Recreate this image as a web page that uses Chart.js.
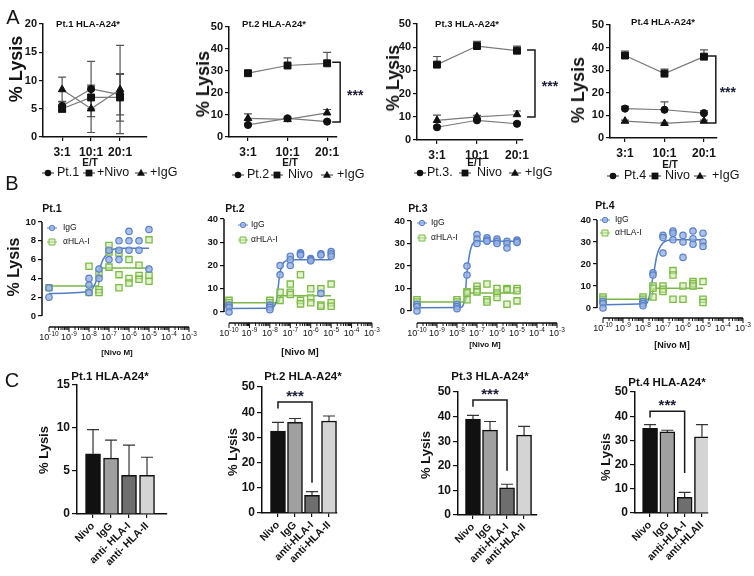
<!DOCTYPE html>
<html>
<head>
<meta charset="utf-8">
<script src="https://cdn.jsdelivr.net/npm/chart.js@4.4.1/dist/chart.umd.min.js"></script>
<style>
html,body{margin:0;padding:0;background:#fff;}
body{position:relative;width:754px;height:576px;overflow:hidden;font-family:"Liberation Sans",Arial,sans-serif;color:#141414;}
canvas{position:absolute;}
.t{position:absolute;white-space:nowrap;line-height:1;transform:translate(-50%,-50%);}
</style>
</head>
<body>
<script>
// ---------------- DATA ----------------
const etRatios = ['3:1', '10:1', '20:1'];
// Panel A: % lysis at E/T ratios (mean, error)
const a1Pt = [5.5, 8.5, 7.5],     a1PtErr = [0.8, 4.9, 3.6];
const a1Nivo = [5.0, 7.0, 7.0],   a1NivoErr = [0.6, 2.0, 4.2];
const a1IgG = [8.4, 5.0, 8.4],    a1IgGErr = [2.2, 4.2, 7.8];
const a2Pt = [5.5, 8.5, 7.0],     a2PtErr = [0.6, 0.6, 0.6];
const a2Nivo = [29.0, 32.5, 33.5], a2NivoErr = [0.8, 3.5, 5.0];
const a2IgG = [8.5, 8.0, 11.0],   a2IgGErr = [2.0, 0.6, 1.5];
const a3Pt = [5.5, 8.5, 7.0],     a3PtErr = [0.6, 0.6, 0.6];
const a3Nivo = [32.5, 40.5, 38.5], a3NivoErr = [3.5, 2.0, 2.0];
const a3IgG = [8.5, 10.0, 11.0],  a3IgGErr = [2.2, 0.6, 1.5];
const a4Pt = [13.0, 12.5, 11.0],  a4PtErr = [1.0, 3.5, 1.0];
const a4Nivo = [36.5, 28.5, 36.0], a4NivoErr = [2.0, 2.0, 3.0];
const a4IgG = [7.5, 6.5, 7.5],    a4IgGErr = [0.4, 0.4, 0.4];
const aTicksPt1 = [0, 5, 10, 15, 20];
const aTicks = [0, 10, 20, 30, 40, 50];

// Panel B: dose response, replicates per concentration
const nivoConc = [1e-10, 1e-8, 3.16e-8, 1e-7, 3.16e-7, 1e-6, 3.16e-6, 1e-5];
const b1IgG = [[3,2],[4,3.3,2.5],[5,4],[7,6],[8,7,6],[9,8,7],[8,7],[9.2,5]];
const b1HLA = [[3],[5.3,2.5],[4.5,2.8,2.5],[7.5,6.8,5.2],[6.7,4.4,3],[6,4,3.5],[5.4,4.3,3.9],[8.1,4.3,3.7]];
const b1IgGFit = [[1e-10,2.4],[1e-8,2.6],[2e-8,3.4],[3.16e-8,4.8],[5e-8,6.0],[1e-7,6.8],[3.16e-7,7.2],[1e-5,7.2]];
const b1HLAFit = [[1e-10,3.2],[3e-8,3.2],[3.5e-8,5.1],[1e-5,5.1]];
const b2IgG = [[3,2,0],[3,2,1],[20,16],[24,22.5,20],[25.5,25,24.5],[23,22.5,22],[25,24.5,8],[26,25,24]];
const b2HLA = [[5,4],[5,4],[8.5,5],[12,8.5,7.5],[16,5,3.5],[10,6,4],[10,3,2.5],[12,4,2.5]];
const b2IgGFit = [[1e-10,1.5],[1e-8,1.6],[2e-8,4],[3.16e-8,17],[5e-8,21.5],[1e-7,22.5],[1e-5,22.5]];
const b2HLAFit = [[1e-10,4],[2.5e-8,4],[3.5e-8,7],[1e-5,7]];
const b3IgG = [[3,2,0],[3,2,1],[20,16],[34,32,30],[32.5,31.5,31],[32,31,30],[31,30,28],[31.5,31,30.5]];
const b3HLA = [[5,4],[5,4],[8.5,8,5],[11,9.5,8.5],[12,5,4],[10,8,6],[10,9.5,3],[10,9,4.5]];
const b3IgGFit = [[1e-10,1.5],[1.5e-8,1.6],[2.5e-8,6],[3.16e-8,17],[5e-8,28],[1e-7,31],[1e-5,31]];
const b3HLAFit = [[1e-10,4],[2.5e-8,4],[3.5e-8,8],[1e-5,8]];
const b4IgG = [[3,2,0],[3,2,1],[16,15],[33,32,25],[35,34,31],[33,30,23],[35,31.5,29],[34,30,28]];
const b4HLA = [[5,4],[5,4],[10,9,5],[10,8.5,7.5],[17,15,4],[10,4],[12,11,10],[12,4,2.5]];
const b4IgGFit = [[1e-10,1.5],[1.5e-8,2],[3.16e-8,14],[5e-8,24],[1e-7,29.5],[3e-7,31],[1e-5,31]];
const b4HLAFit = [[1e-10,4],[2.5e-8,4],[3.5e-8,9],[1e-5,9]];
const bTicksPt1 = [0, 2, 4, 6, 8, 10];
const bTicks = [0, 10, 20, 30, 40];

// Panel C: bars (mean, error)
const cGroups1 = ['Nivo', 'IgG', 'anti- HLA-I', 'anti- HLA-II'];
const cGroups = ['Nivo', 'IgG', 'anti-HLA-I', 'anti-HLA-II'];
const cGroups4 = ['Nivo', 'IgG', 'anti-HLA-I', 'anti-HLAII'];
const c1Vals = [7.0, 6.5, 4.5, 4.5],     c1Err = [2.8, 2.1, 3.5, 2.1];
const c2Vals = [32.5, 36.0, 7.0, 36.5],  c2Err = [3.5, 1.5, 1.5, 2.0];
const c3Vals = [39.0, 34.5, 11.0, 32.5], c3Err = [1.5, 3.5, 1.5, 3.5];
const c4Vals = [35.0, 33.5, 6.5, 31.5],  c4Err = [1.5, 0.7, 2.0, 5.0];
const cTicksPt1 = [0, 5, 10, 15];
const cTicks = [0, 10, 20, 30, 40, 50];

// ---------------- HELPERS ----------------
const FONT = '"Liberation Sans", Arial, sans-serif';
Chart.defaults.font.family = FONT;
Chart.defaults.color = '#141414';

function drawShape(ctx, shape, x, y, r, fill, stroke, lw) {
  ctx.beginPath();
  if (shape === 'circle') ctx.arc(x, y, r, 0, Math.PI * 2);
  else if (shape === 'rect') ctx.rect(x - r, y - r, 2 * r, 2 * r);
  else { ctx.moveTo(x, y - r * 1.15); ctx.lineTo(x + r * 1.1, y + r * 0.75); ctx.lineTo(x - r * 1.1, y + r * 0.75); ctx.closePath(); }
  if (fill) { ctx.fillStyle = fill; ctx.fill(); }
  if (stroke) { ctx.strokeStyle = stroke; ctx.lineWidth = lw || 1; ctx.stroke(); }
}

const extras = {
  id: 'extras',
  beforeDatasetsDraw(chart) {
    const ctx = chart.ctx, ys = chart.scales.y;
    chart.data.datasets.forEach((ds, di) => {
      if (!ds.errUp) return;
      const meta = chart.getDatasetMeta(di);
      ctx.save();
      ctx.strokeStyle = ds.errColor || '#333';
      ctx.lineWidth = ds.errWidth || 1.2;
      meta.data.forEach((el, i) => {
        const raw = ds.data[i];
        const val = typeof raw === 'object' ? raw.y : raw;
        const x = el.x, c = ds.errCap || 4, yc = ys.getPixelForValue(val);
        const up = ds.errUp[i] || 0, dn = (ds.errDown && ds.errDown[i]) || 0;
        ctx.beginPath();
        if (up) { const yt = ys.getPixelForValue(val + up); ctx.moveTo(x, yc); ctx.lineTo(x, yt); ctx.moveTo(x - c, yt); ctx.lineTo(x + c, yt); }
        if (dn) { const yb = ys.getPixelForValue(val - dn); ctx.moveTo(x, yc); ctx.lineTo(x, yb); ctx.moveTo(x - c, yb); ctx.lineTo(x + c, yb); }
        ctx.stroke();
      });
      ctx.restore();
    });
  },
  afterDraw(chart, args, o) {
    const ctx = chart.ctx, xs = chart.scales.x, ys = chart.scales.y, ca = chart.chartArea;
    const ox = o.ox || 0, oy = o.oy || 0;
    ctx.save();
    if (o.detached) {
      const d = o.detached;
      ctx.strokeStyle = '#111'; ctx.lineWidth = 1.5;
      ctx.beginPath();
      ctx.moveTo(ca.left, ys.getPixelForValue(d.ymax)); ctx.lineTo(ca.left, ys.getPixelForValue(0));
      ctx.moveTo(xs.getPixelForValue(d.xmin), ca.bottom); ctx.lineTo(xs.getPixelForValue(d.xmax), ca.bottom);
      ctx.stroke();
      ctx.lineWidth = 1;
      xs.ticks.forEach(t => {
        const px = xs.getPixelForValue(t.value);
        ctx.beginPath(); ctx.moveTo(px, ca.bottom); ctx.lineTo(px, ca.bottom + (t.major ? 5 : 3)); ctx.stroke();
      });
      ctx.fillStyle = '#141414'; ctx.textBaseline = 'middle'; ctx.textAlign = 'left';
      xs.ticks.filter(t => t.major).forEach(t => {
        const px = xs.getPixelForValue(t.value);
        const ex = String(Math.round(Math.log10(t.value)));
        ctx.font = d.base; const w1 = ctx.measureText('10').width;
        ctx.font = d.sup; const w2 = ctx.measureText(ex).width;
        const x0 = px - (w1 + w2) / 2, yy = ca.bottom + d.dy;
        ctx.font = d.base; ctx.fillText('10', x0, yy);
        ctx.font = d.sup; ctx.fillText(ex, x0 + w1, yy - 3.5);
      });
    }
    (o.brackets || []).forEach(b => {
      ctx.strokeStyle = '#1a1a1a'; ctx.lineWidth = 1.5;
      ctx.beginPath();
      ctx.fillStyle = '#1c1c38'; ctx.font = b.font; ctx.textAlign = 'center'; ctx.textBaseline = 'middle';
      if (b.type === 'v') {
        const px = xs.getPixelForValue(b.x), p1 = ys.getPixelForValue(b.y1), p2 = ys.getPixelForValue(b.y2);
        ctx.moveTo(px - b.tick, p1); ctx.lineTo(px, p1); ctx.lineTo(px, p2); ctx.lineTo(px - b.tick, p2); ctx.stroke();
        ctx.fillText(b.label, px + b.lx, (p1 + p2) / 2 + 4);
      } else {
        const a = xs.getPixelForValue(b.x1), c = xs.getPixelForValue(b.x2), py = ys.getPixelForValue(b.y);
        ctx.moveTo(a, ys.getPixelForValue(b.yL)); ctx.lineTo(a, py); ctx.lineTo(c, py); ctx.lineTo(c, ys.getPixelForValue(b.yR)); ctx.stroke();
        ctx.fillText(b.label, (a + c) / 2, ys.getPixelForValue(b.ly) + 4);
      }
    });
    if (o.legend) {
      const L = o.legend;
      L.items.forEach(it => {
        const x = it.x - ox, y = it.y - oy;
        ctx.strokeStyle = it.line || L.line; ctx.lineWidth = 1;
        ctx.beginPath(); ctx.moveTo(x - L.half, y); ctx.lineTo(x + L.half, y); ctx.stroke();
        drawShape(ctx, it.shape, x, y, it.r, it.fill, it.stroke, it.lw || 1);
        ctx.fillStyle = '#141414'; ctx.font = L.font; ctx.textAlign = 'left'; ctx.textBaseline = 'middle';
        ctx.fillText(it.text, it.tx - ox, y);
      });
    }
    ctx.restore();
  }
};

function place(cv, area, cfg) {
  const c = document.createElement('canvas');
  c.width = cv.w; c.height = cv.h;
  c.style.left = cv.x + 'px'; c.style.top = cv.y + 'px';
  c.style.width = cv.w + 'px'; c.style.height = cv.h + 'px';
  document.body.appendChild(c);
  const o = cfg.options;
  o.responsive = false; o.animation = false; o.devicePixelRatio = 1;
  o.layout = { padding: { left: 0, top: area.t - cv.y, right: cv.x + cv.w - area.r, bottom: 0 } };
  o.scales.y.afterFit = s => { s.width = area.l - cv.x; };
  o.scales.x.afterFit = s => { s.height = cv.y + cv.h - area.b; };
  o.plugins = Object.assign({ legend: { display: false }, tooltip: { enabled: false } }, o.plugins || {});
  o.plugins.extras = Object.assign({ ox: cv.x, oy: cv.y }, o.plugins.extras || {});
  cfg.plugins = [extras];
  new Chart(c.getContext('2d'), cfg);
}

const axisGrid = { display: true, drawOnChartArea: false, drawTicks: true, tickLength: 4, color: '#111', lineWidth: 1.2 };
const axisBorder = { display: true, color: '#111', width: 1.5 };

// ---------------- PANEL A ----------------
function panelA(cv, area, xr, yTicks, ser, legendItems, bracket) {
  const shapes = ['circle', 'rect', 'triangle'], radii = [3.6, 4.9, 4.4];
  const datasets = ser.map((s, k) => ({
    label: s.label, data: s.v.map((v, i) => ({ x: i, y: v })), errUp: s.up, errDown: s.dn,
    showLine: true, borderColor: '#7a7a7a', borderWidth: 1.2,
    pointStyle: shapes[k], pointRadius: radii[k], pointBackgroundColor: '#111', pointBorderColor: '#111', pointBorderWidth: 1,
    errColor: '#555', errCap: 4
  }));
  place(cv, area, {
    type: 'scatter', data: { datasets },
    options: {
      scales: {
        x: { type: 'linear', min: xr[0], max: xr[1], offset: false,
          afterBuildTicks: s => { s.ticks = etRatios.map((_, i) => ({ value: i })); },
          ticks: { callback: v => etRatios[v], font: { size: 12, weight: 'bold' }, padding: 4, autoSkip: false, maxRotation: 0, minRotation: 0 },
          grid: axisGrid, border: axisBorder },
        y: { type: 'linear', min: yTicks[0], max: yTicks[yTicks.length - 1],
          afterBuildTicks: s => { s.ticks = yTicks.map(v => ({ value: v })); },
          ticks: { font: { size: 11, weight: 'bold' }, padding: 2 },
          grid: axisGrid, border: axisBorder }
      },
      plugins: { extras: { legend: { items: legendItems, font: '12.5px ' + FONT, line: '#333', half: 6 }, brackets: bracket ? [bracket] : [] } }
    }
  });
}
const aLeg = (y, xs, txs, names) => [
  { shape: 'circle', x: xs[0], y, tx: txs[0], text: names[0], r: 3.3, fill: '#111' },
  { shape: 'rect', x: xs[1], y, tx: txs[1], text: names[1], r: 3.4, fill: '#111' },
  { shape: 'triangle', x: xs[2], y, tx: txs[2], text: names[2], r: 3.6, fill: '#111' }
];
const br = (x, y1, y2, lx) => ({ type: 'v', x, y1, y2, tick: 8, lx, label: '***', font: 'bold 14px ' + FONT });

panelA({ x: 0, y: 0, w: 192, h: 186 }, { l: 43, t: 24, r: 147, b: 137 }, [-0.66, 2.93], aTicksPt1,
  [{ label: 'Pt.1', v: a1Pt, up: a1PtErr, dn: a1PtErr }, { label: '+Nivo', v: a1Nivo, up: a1NivoErr, dn: a1NivoErr }, { label: '+IgG', v: a1IgG, up: a1IgGErr, dn: a1IgGErr }],
  aLeg(173, [48, 89, 141], [57, 97, 150], ['Pt.1', '+Nivo', '+IgG']), null);
panelA({ x: 190, y: 0, w: 190, h: 186 }, { l: 229, t: 27, r: 337, b: 137 }, [-0.48, 2.25], aTicks,
  [{ label: 'Pt.2', v: a2Pt, up: a2PtErr }, { label: 'Nivo', v: a2Nivo, up: a2NivoErr }, { label: '+IgG', v: a2IgG, up: a2IgGErr }],
  aLeg(175, [238, 277, 327], [247, 288, 337], ['Pt.2', 'Nivo', '+IgG']), br(2.33, 34, 6.8, 15));
panelA({ x: 380, y: 0, w: 185, h: 186 }, { l: 417, t: 24, r: 523, b: 140 }, [-0.5, 2.15], aTicks,
  [{ label: 'Pt.3', v: a3Pt, up: a3PtErr }, { label: 'Nivo', v: a3Nivo, up: a3NivoErr }, { label: '+IgG', v: a3IgG, up: a3IgGErr }],
  aLeg(173, [420, 465, 515], [427, 477, 525], ['Pt.3.', 'Nivo', '+IgG']), br(2.45, 38.8, 9.9, 15));
panelA({ x: 565, y: 0, w: 189, h: 186 }, { l: 610, t: 25, r: 717, b: 138 }, [-0.38, 2.33], aTicks,
  [{ label: 'Pt.4', v: a4Pt, up: a4PtErr }, { label: 'Nivo', v: a4Nivo, up: a4NivoErr }, { label: '+IgG', v: a4IgG, up: a4IgGErr }],
  aLeg(176, [613, 655, 700], [624, 665, 712], ['Pt.4', 'Nivo', '+IgG']), br(2.3, 36.3, 6.6, 12));

// ---------------- PANEL B ----------------
const toPts = (conc, reps) => { const p = []; conc.forEach((c, i) => reps[i].forEach(v => p.push({ x: c, y: v }))); return p; };
const fitPts = f => f.map(p => ({ x: p[0], y: p[1] }));
const IGG_FILL = 'rgba(150,178,228,0.8)', IGG_LINE = '#5a80c8', HLA_FILL = 'rgba(205,232,175,0.55)', HLA_LINE = '#7cbc46';

function panelB(cv, area, xmin, yr, yTicks, igg, hla, iggFit, hlaFit, leg) {
  place(cv, area, {
    type: 'scatter',
    data: { datasets: [
      { label: 'IgG', data: toPts(nivoConc, igg), pointStyle: 'circle', pointRadius: 3.2, pointBackgroundColor: IGG_FILL, pointBorderColor: IGG_LINE, pointBorderWidth: 1.2 },
      { label: 'αHLA-I', data: toPts(nivoConc, hla), pointStyle: 'rect', pointRadius: 4.4, pointBackgroundColor: HLA_FILL, pointBorderColor: HLA_LINE, pointBorderWidth: 1.3 },
      { label: 'IgG fit', data: fitPts(iggFit), showLine: true, pointRadius: 0, borderColor: '#4f7cc4', borderWidth: 1.5, cubicInterpolationMode: 'monotone' },
      { label: 'αHLA-I fit', data: fitPts(hlaFit), showLine: true, pointRadius: 0, borderColor: '#7ab648', borderWidth: 1.5, cubicInterpolationMode: 'monotone' }
    ] },
    options: {
      scales: {
        x: { type: 'logarithmic', min: xmin, max: 1e-3,
          afterBuildTicks: s => { const t = []; for (let e = -10; e < -3; e++) for (let m = 1; m < 10; m++) t.push({ value: m * Math.pow(10, e), major: m === 1 }); t.push({ value: 1e-3, major: true }); s.ticks = t; },
          ticks: { display: false }, grid: { display: false }, border: { display: false } },
        y: { type: 'linear', min: yr[0], max: yr[1],
          afterBuildTicks: s => { s.ticks = yTicks.map(v => ({ value: v })); },
          ticks: { font: { size: 9.5, weight: 'bold' }, padding: 2 },
          grid: axisGrid, border: { display: false } }
      },
      plugins: { extras: {
        detached: { ymax: yr[1], xmin: 1e-10, xmax: 1e-3, dy: 11, base: '9px ' + FONT, sup: '6.5px ' + FONT },
        legend: { font: '8.5px ' + FONT, half: 5, items: [
          { shape: 'circle', x: leg[0], y: leg[2], tx: leg[1], text: 'IgG', r: 2.7, fill: IGG_FILL, stroke: IGG_LINE, line: IGG_LINE },
          { shape: 'rect', x: leg[0], y: leg[3], tx: leg[1], text: 'αHLA-I', r: 3, fill: HLA_FILL, stroke: HLA_LINE, line: HLA_LINE }
        ] } } }
    }
  });
}
panelB({ x: 0, y: 195, w: 200, h: 170 }, { l: 42, t: 222, r: 189, b: 327 }, Math.pow(10, -10.35), [-1.17, 10], bTicksPt1, b1IgG, b1HLA, b1IgGFit, b1HLAFit, [52, 63, 228, 242]);
panelB({ x: 190, y: 195, w: 200, h: 170 }, { l: 224, t: 219, r: 372, b: 323 }, Math.pow(10, -10.245), [-4.73, 40], bTicks, b2IgG, b2HLA, b2IgGFit, b2HLAFit, [243, 251, 225, 240]);
panelB({ x: 380, y: 195, w: 195, h: 170 }, { l: 411, t: 221, r: 557, b: 323 }, Math.pow(10, -10.3), [-5.33, 40], bTicks, b3IgG, b3HLA, b3IgGFit, b3HLAFit, [422, 431, 223, 238]);
panelB({ x: 565, y: 195, w: 189, h: 170 }, { l: 597, t: 220, r: 743, b: 318 }, Math.pow(10, -10.3), [-4.55, 40], bTicks, b4IgG, b4HLA, b4IgGFit, b4HLAFit, [605, 615, 220, 233]);

// ---------------- PANEL C ----------------
function panelC(cv, area, xr, yTicks, groups, vals, errs, bracket) {
  place(cv, area, {
    type: 'bar',
    data: { datasets: [{ label: '% Lysis', data: vals.map((v, i) => ({ x: i, y: v })), errUp: errs,
      backgroundColor: ['#111111', '#a0a0a0', '#6e6e6e', '#d4d4d4'], borderColor: '#111', borderWidth: 1.5,
      barThickness: 15, errColor: '#333', errCap: 6 }] },
    options: {
      scales: {
        x: { type: 'linear', min: xr[0], max: xr[1], offset: false,
          afterBuildTicks: s => { s.ticks = groups.map((_, i) => ({ value: i })); },
          ticks: { callback: v => groups[v], autoSkip: false, minRotation: 45, maxRotation: 45, font: { size: 10.5, weight: 'bold' }, padding: 2 },
          grid: Object.assign({ offset: false }, axisGrid), border: axisBorder },
        y: { type: 'linear', min: yTicks[0], max: yTicks[yTicks.length - 1],
          afterBuildTicks: s => { s.ticks = yTicks.map(v => ({ value: v })); },
          ticks: { font: { size: 12, weight: 'bold' }, padding: 2 },
          grid: Object.assign({}, axisGrid, { tickLength: 5 }), border: axisBorder }
      },
      plugins: { extras: { brackets: bracket ? [bracket] : [] } }
    }
  });
}
const brC = (y, yL, yR, ly) => ({ type: 'h', x1: 0, x2: 2, y, yL, yR, ly, label: '***', font: 'bold 15px ' + FONT });
panelC({ x: 0, y: 370, w: 190, h: 206 }, { l: 77, t: 385, r: 167, b: 514 }, [-0.89, 4.11], cTicksPt1, cGroups1, c1Vals, c1Err, null);
panelC({ x: 190, y: 370, w: 190, h: 206 }, { l: 262, t: 387, r: 337, b: 513 }, [-0.94, 3.47], cTicks, cGroups, c2Vals, c2Err, brC(44, 41.5, 12, 47.5));
panelC({ x: 380, y: 370, w: 185, h: 206 }, { l: 458, t: 392, r: 537, b: 515 }, [-0.88, 3.76], cTicks, cGroups, c3Vals, c3Err, brC(46.7, 44, 18, 50.5));
panelC({ x: 565, y: 370, w: 189, h: 206 }, { l: 635, t: 392, r: 708, b: 513 }, [-0.87, 3.35], cTicks, cGroups4, c4Vals, c4Err, brC(42, 39.5, 16.5, 46));

// ---------------- TEXT ----------------
const texts = [
  ['A', 13, 17, 20, 'normal', 0], ['B', 12, 183, 20, 'normal', 0], ['C', 12, 380, 20, 'normal', 0],
  ['Pt.1 HLA-A24*', 88, 24, 9.5, 'bold', 0], ['Pt.2 HLA-A24*', 274, 24, 9.5, 'bold', 0],
  ['Pt.3 HLA-A24*', 467, 24, 9.5, 'bold', 0], ['Pt.4 HLA-A24*', 663, 22, 9.5, 'bold', 0],
  ['% Lysis', 16, 69, 18, 'bold', 1], ['% Lysis', 203, 84, 18, 'bold', 1], ['% Lysis', 393, 78, 18, 'bold', 1], ['% Lysis', 578, 90, 18, 'bold', 1],
  ['E/T', 90, 163, 10, 'bold', 0], ['E/T', 290, 163, 10, 'bold', 0], ['E/T', 475, 163, 10, 'bold', 0], ['E/T', 670, 165, 10, 'bold', 0],
  ['Pt.1', 52, 208, 10.5, 'bold', 0], ['Pt.2', 235, 208, 10.5, 'bold', 0], ['Pt.3', 418, 208, 10.5, 'bold', 0], ['Pt.4', 605, 205, 10.5, 'bold', 0],
  ['% Lysis', 14, 267, 16, 'bold', 1],
  ['[Nivo M]', 117, 353, 8, 'bold', 0], ['[Nivo M]', 300, 352, 9.5, 'bold', 0], ['[Nivo M]', 485, 345, 8, 'bold', 0], ['[Nivo M]', 672, 345, 9, 'bold', 0],
  ['Pt.1 HLA-A24*', 110, 377, 11.5, 'bold', 0], ['Pt.2 HLA-A24*', 303, 377, 11.5, 'bold', 0],
  ['Pt.3 HLA-A24*', 490, 377, 11.5, 'bold', 0], ['Pt.4 HLA-A24*', 667, 383, 11.5, 'bold', 0],
  ['% Lysis', 43, 450, 13, 'bold', 1], ['% Lysis', 232, 452, 13, 'bold', 1], ['% Lysis', 425, 455, 13, 'bold', 1], ['% Lysis', 605, 457, 13, 'bold', 1]
];
texts.forEach(([s, x, y, size, w, rot]) => {
  const d = document.createElement('div');
  d.className = 't';
  d.textContent = s;
  d.style.left = x + 'px'; d.style.top = y + 'px';
  d.style.fontSize = size + 'px'; d.style.fontWeight = w;
  if (rot) d.style.transform = 'translate(-50%,-50%) rotate(-90deg)';
  document.body.appendChild(d);
});
</script>
</body>
</html>
